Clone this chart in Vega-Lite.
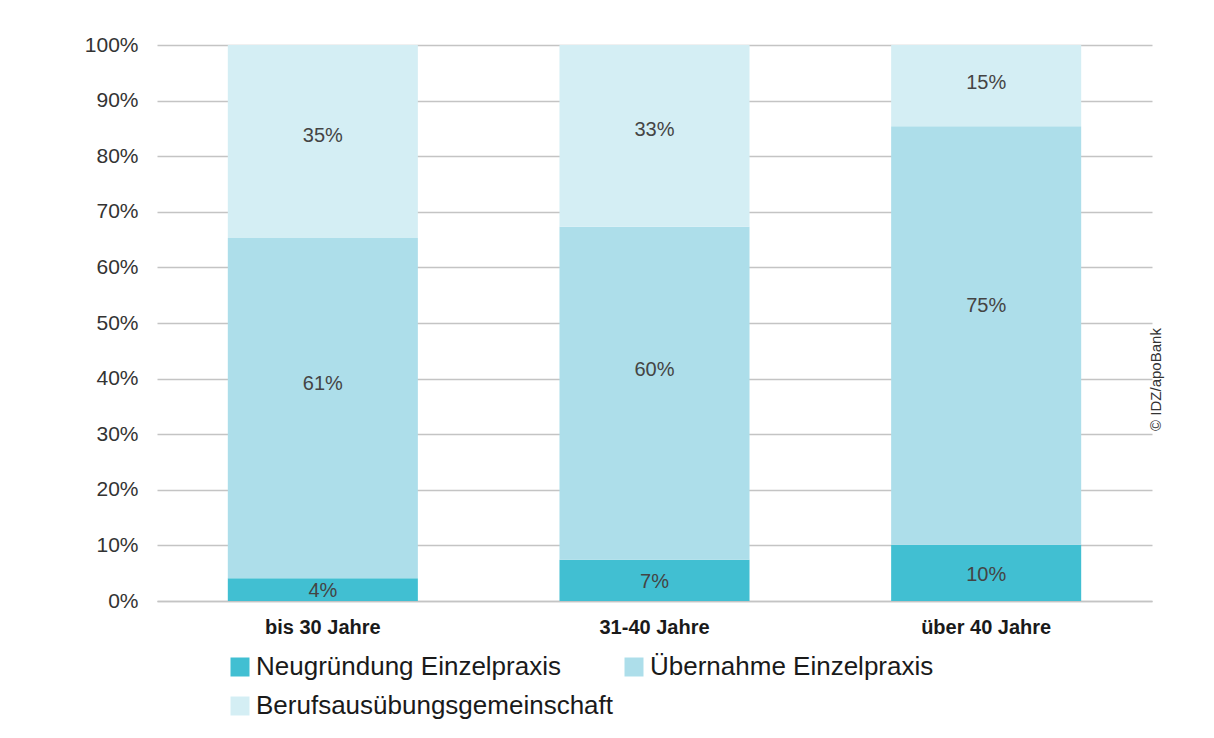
{
  "$schema": "https://vega.github.io/schema/vega-lite/v6.json",
  "width": 995,
  "height": 556,
  "autosize": {"type": "none"},
  "padding": {"left": 157, "top": 45, "right": 62, "bottom": 137},
  "background": "white",
  "config": {"view": {"stroke": null}, "font": "Liberation Sans"},
  "data": {
    "values": [
      {"Alter": "bis 30 Jahre", "Art": "Neugründung Einzelpraxis", "Rang": 1, "Anteil": 0.041},
      {"Alter": "bis 30 Jahre", "Art": "Übernahme Einzelpraxis", "Rang": 2, "Anteil": 0.612},
      {"Alter": "bis 30 Jahre", "Art": "Berufsausübungsgemeinschaft", "Rang": 3, "Anteil": 0.347},
      {"Alter": "31-40 Jahre", "Art": "Neugründung Einzelpraxis", "Rang": 1, "Anteil": 0.074},
      {"Alter": "31-40 Jahre", "Art": "Übernahme Einzelpraxis", "Rang": 2, "Anteil": 0.599},
      {"Alter": "31-40 Jahre", "Art": "Berufsausübungsgemeinschaft", "Rang": 3, "Anteil": 0.327},
      {"Alter": "über 40 Jahre", "Art": "Neugründung Einzelpraxis", "Rang": 1, "Anteil": 0.101},
      {"Alter": "über 40 Jahre", "Art": "Übernahme Einzelpraxis", "Rang": 2, "Anteil": 0.753},
      {"Alter": "über 40 Jahre", "Art": "Berufsausübungsgemeinschaft", "Rang": 3, "Anteil": 0.146}
    ]
  },
  "encoding": {
    "x": {
      "field": "Alter",
      "type": "nominal",
      "sort": ["bis 30 Jahre", "31-40 Jahre", "über 40 Jahre"],
      "scale": {"paddingInner": 0.427, "paddingOuter": 0.2135},
      "axis": {
        "title": null,
        "labelAngle": 0,
        "labelFontWeight": "bold",
        "labelFontSize": 20,
        "labelColor": "#1a1a1a",
        "labelPadding": 16,
        "ticks": false,
        "domainColor": "#c4c4c4",
        "domainWidth": 1.5
      }
    }
  },
  "layer": [
    {
      "mark": {"type": "bar"},
      "encoding": {
        "y": {
          "field": "Anteil",
          "type": "quantitative",
          "stack": "zero",
          "scale": {"domain": [0, 1], "nice": false},
          "axis": {
            "title": null,
            "format": ".0%",
            "values": [0, 0.1, 0.2, 0.3, 0.4, 0.5, 0.6, 0.7, 0.8, 0.9, 1],
            "labelFontSize": 21,
            "labelColor": "#333333",
            "labelPadding": 19,
            "ticks": false,
            "domain": false,
            "gridColor": "#c4c4c4",
            "gridWidth": 1.5
          }
        },
        "color": {
          "field": "Art",
          "type": "nominal",
          "scale": {
            "domain": ["Neugründung Einzelpraxis", "Berufsausübungsgemeinschaft", "Übernahme Einzelpraxis"],
            "range": ["#41bfd2", "#d4eef4", "#addeea"]
          },
          "legend": {
            "title": null,
            "orient": "none",
            "legendX": 70,
            "legendY": 609,
            "columns": 2,
            "symbolType": "square",
            "symbolSize": 361,
            "symbolStrokeWidth": 0,
            "labelFontSize": 26,
            "labelColor": "#1a1a1a",
            "labelOffset": 3,
            "rowPadding": 13,
            "columnPadding": 7,
            "labelLimit": 600,
            "padding": 0
          }
        },
        "order": {"field": "Rang", "type": "quantitative"}
      }
    },
    {
      "mark": {"type": "text", "fontSize": 20, "color": "#444444", "baseline": "middle"},
      "encoding": {
        "y": {"field": "Anteil", "type": "quantitative", "stack": "zero", "bandPosition": 0.46, "axis": null},
        "text": {"field": "Anteil", "type": "quantitative", "format": ".0%"},
        "detail": {"field": "Art", "type": "nominal"},
        "order": {"field": "Rang", "type": "quantitative"},
        "opacity": {"condition": {"test": "datum.Rang === 1", "value": 1}, "value": 0}
      }
    },
    {
      "mark": {"type": "text", "fontSize": 20, "color": "#444444", "baseline": "middle"},
      "encoding": {
        "y": {"field": "Anteil", "type": "quantitative", "stack": "zero", "bandPosition": 0.57, "axis": null},
        "text": {"field": "Anteil", "type": "quantitative", "format": ".0%"},
        "detail": {"field": "Art", "type": "nominal"},
        "order": {"field": "Rang", "type": "quantitative"},
        "opacity": {"condition": {"test": "datum.Rang === 2", "value": 1}, "value": 0}
      }
    },
    {
      "mark": {"type": "text", "fontSize": 20, "color": "#444444", "baseline": "middle"},
      "encoding": {
        "y": {
          "field": "Anteil",
          "type": "quantitative",
          "stack": "zero",
          "bandPosition": 0.53,
          "axis": {
            "orient": "right",
            "title": "© IDZ/apoBank",
            "labels": false,
            "ticks": false,
            "domain": false,
            "grid": false,
            "titleAngle": 270,
            "titleFontSize": 15,
            "titleFontWeight": "normal",
            "titleColor": "#333333",
            "titleX": 3,
            "titleY": 334,
            "titleAlign": "center",
            "titleBaseline": "middle"
          }
        },
        "text": {"field": "Anteil", "type": "quantitative", "format": ".0%"},
        "detail": {"field": "Art", "type": "nominal"},
        "order": {"field": "Rang", "type": "quantitative"},
        "opacity": {"condition": {"test": "datum.Rang === 3", "value": 1}, "value": 0}
      }
    }
  ],
  "resolve": {"axis": {"y": "independent"}}
}
